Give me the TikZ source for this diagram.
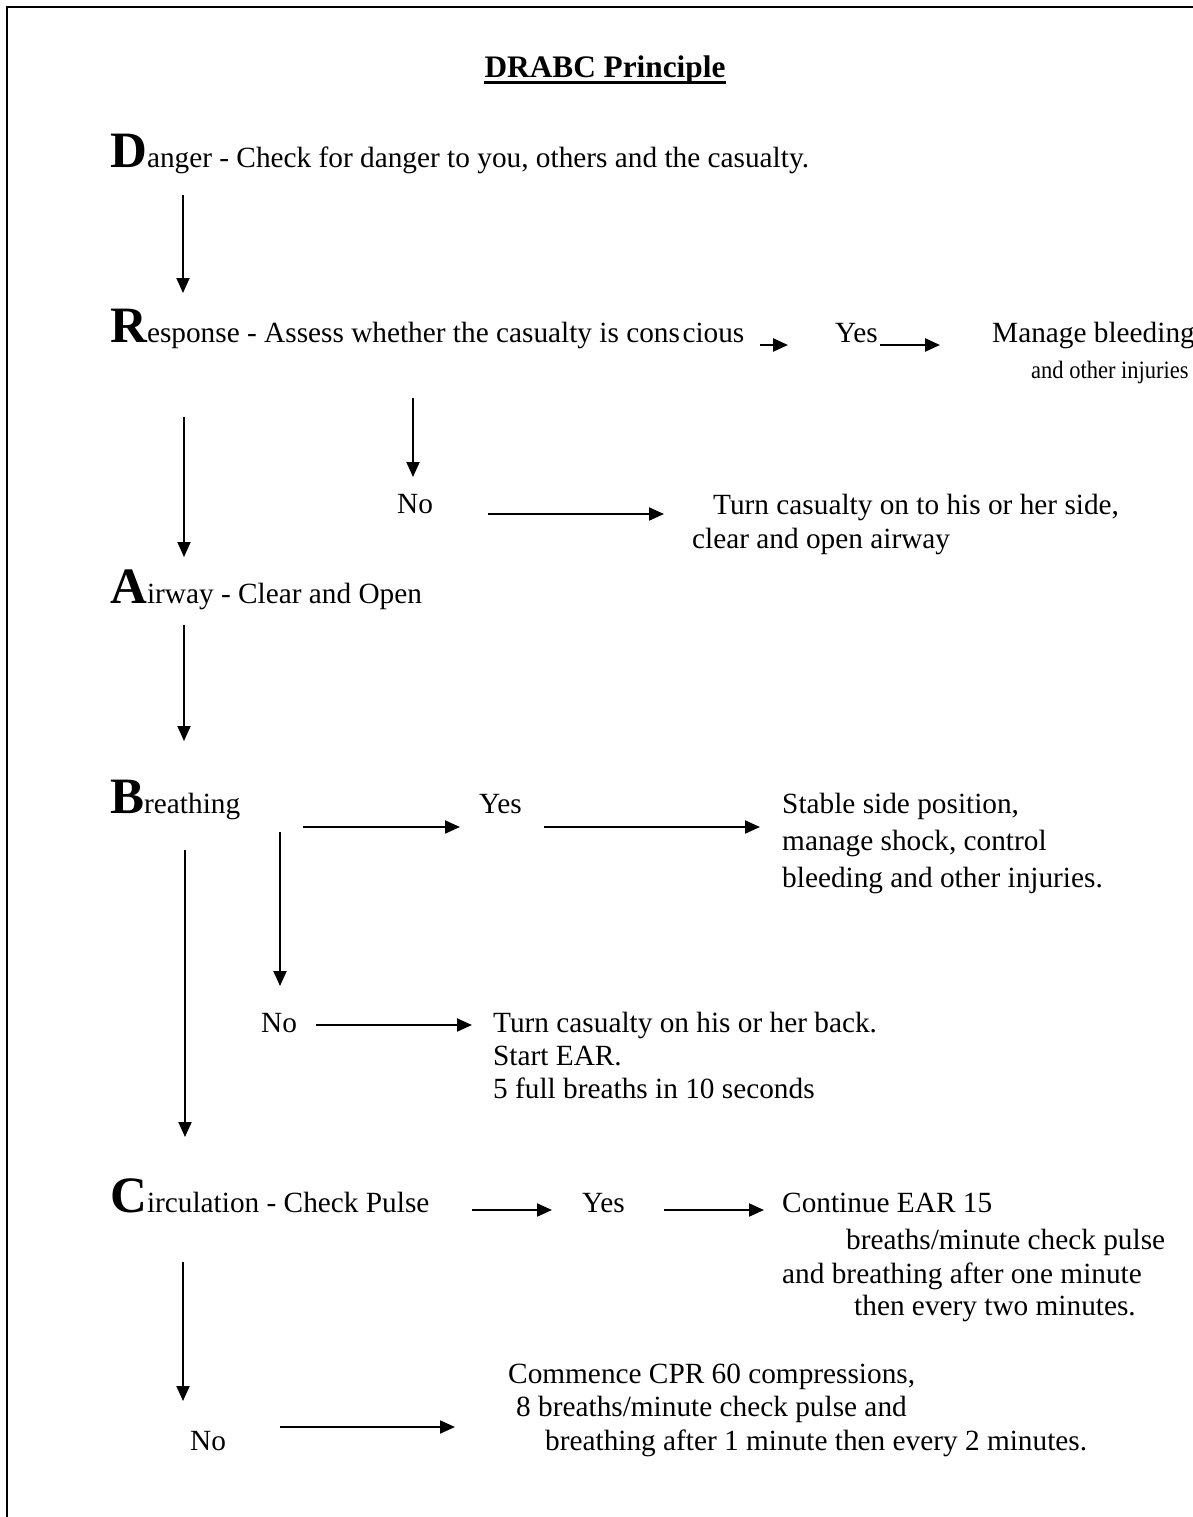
\documentclass[tikz,border=0pt]{standalone}
\usepackage{fontspec}
\setmainfont{Liberation Serif}
\usetikzlibrary{arrows.meta}
\newcommand\Ini[1]{{\fontsize{51}{51}\selectfont\bfseries #1}}
\tikzset{
  txt/.style={anchor=base west, inner sep=0pt, font=\fontsize{29.3}{35}\selectfont},
  smalltxt/.style={anchor=base west, inner sep=0pt, font=\fontsize{25}{30}\selectfont},
  ttl/.style={anchor=base, inner sep=0pt, font=\fontsize{31.3}{36}\selectfont\bfseries},
  arr/.style={line width=1.9pt, -{Triangle[length=15pt,width=13pt]}},
  thickarr/.style={line width=2.4pt, -{Triangle[length=15pt,width=13pt]}},
  framestyle/.style={line width=2.3pt},
}
\begin{document}
\begin{tikzpicture}[x=1pt,y=-1pt]
\useasboundingbox (0,0) rectangle (1193,1517);
% frame
\coordinate (fb) at (7,1517);
\coordinate (ftl) at (7,7);
\coordinate (ftr) at (1193,7);
\draw[framestyle] (fb) -- (ftl) -- (ftr);

% title
\node[ttl] (title) at (605,78) {DRABC Principle};
\draw[line width=3pt] ([yshift=-5pt]title.base west) -- ([yshift=-5pt]title.base east);

% D
\node[txt] (D) at (110,168) {\Ini{D}anger - Check for danger to you, others and the casualty.};

% R
\node[txt] (R) at (110,342) {\Ini{R}esponse - Assess whether the casualty is cons\hspace{2.5pt}cious};
\node[txt] (yesR) at (835,342) {Yes};
\node[txt] (manage1) at (992,342) {Manage bleeding};
\node[smalltxt] (manage2) at (1031,378) {\scalebox{0.9}[1]{and other injuries}};
\node[txt] (noR) at (397,513) {No};
\node[txt] (turnR1) at (713,514) {Turn casualty on to his or her side,};
\node[txt] (turnR2) at (692,548) {clear and open airway};

% A
\node[txt] (A) at (110,603) {\Ini{A}irway - Clear and Open};

% B
\node[txt] (B) at (110,813) {\Ini{B}reathing};
\node[txt] (yesB) at (479,813) {Yes};
\node[txt] (stable1) at (782,813) {Stable side position,};
\node[txt] (stable2) at (782,850) {manage shock, control};
\node[txt] (stable3) at (782,887) {bleeding and other injuries.};
\node[txt] (noB) at (261,1032) {No};
\node[txt] (back1) at (493,1032) {Turn casualty on his or her back.};
\node[txt] (back2) at (493,1065) {Start EAR.};
\node[txt] (back3) at (493,1098) {5 full breaths in 10 seconds};

% C
\node[txt] (C) at (110,1212) {\Ini{C}irculation - Check Pulse};
\node[txt] (yesC) at (582,1212) {Yes};
\node[txt] (cont1) at (782,1212) {Continue EAR 15};
\node[txt] (cont2) at (846,1249) {breaths/minute check pulse};
\node[txt] (cont3) at (782,1283) {and breathing after one minute};
\node[txt] (cont4) at (854,1315) {then every two minutes.};
\node[txt] (noC) at (190,1450) {No};
\node[txt] (cpr1) at (508,1383) {Commence CPR 60 compressions,};
\node[txt] (cpr2) at (516,1416) {8 breaths/minute check pulse and};
\node[txt] (cpr3) at (545,1450) {breathing after 1 minute then every 2 minutes.};

% connector end points
\coordinate (DtoR1) at (183,195);   \coordinate (DtoR2) at (183,293);
\coordinate (RtoY1) at (760,345);   \coordinate (RtoY2) at (788,345);
\coordinate (YtoM1) at (880,345);   \coordinate (YtoM2) at (940,345);
\coordinate (RtoN1) at (413,398);   \coordinate (RtoN2) at (413,477);
\coordinate (NtoT1) at (488,514);   \coordinate (NtoT2) at (664,514);
\coordinate (RtoA1) at (184,417);   \coordinate (RtoA2) at (184,557);
\coordinate (AtoB1) at (184,625);   \coordinate (AtoB2) at (184,741);
\coordinate (BtoY1) at (303,827);   \coordinate (BtoY2) at (460,827);
\coordinate (YtoS1) at (544,827);   \coordinate (YtoS2) at (760,827);
\coordinate (BtoN1) at (280,832);   \coordinate (BtoN2) at (280,986);
\coordinate (NtoK1) at (316,1025);  \coordinate (NtoK2) at (472,1025);
\coordinate (BtoC1) at (185,850);   \coordinate (BtoC2) at (185,1137);
\coordinate (CtoY1) at (472,1210);  \coordinate (CtoY2) at (552,1210);
\coordinate (YtoE1) at (664,1210);  \coordinate (YtoE2) at (764,1210);
\coordinate (CtoN1) at (183,1262);  \coordinate (CtoN2) at (183,1401);
\coordinate (NtoP1) at (280,1427);  \coordinate (NtoP2) at (455,1427);

\draw[arr] (DtoR1) -- (DtoR2);
\draw[thickarr] (RtoY1) -- (RtoY2);
\draw[thickarr] (YtoM1) -- (YtoM2);
\draw[arr] (RtoN1) -- (RtoN2);
\draw[arr] (NtoT1) -- (NtoT2);
\draw[arr] (RtoA1) -- (RtoA2);
\draw[arr] (AtoB1) -- (AtoB2);
\draw[arr] (BtoY1) -- (BtoY2);
\draw[arr] (YtoS1) -- (YtoS2);
\draw[arr] (BtoN1) -- (BtoN2);
\draw[arr] (NtoK1) -- (NtoK2);
\draw[arr] (BtoC1) -- (BtoC2);
\draw[arr] (CtoY1) -- (CtoY2);
\draw[arr] (YtoE1) -- (YtoE2);
\draw[arr] (CtoN1) -- (CtoN2);
\draw[arr] (NtoP1) -- (NtoP2);
\end{tikzpicture}
\end{document}
